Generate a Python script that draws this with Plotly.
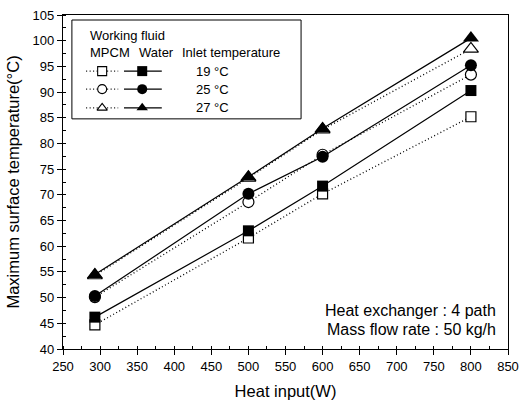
import plotly.graph_objects as go

# Heat input (W)
heat_input = [293, 500, 600, 800]

# Maximum surface temperature (°C) by working fluid and inlet temperature
water_19 = [46.2, 63.0, 71.7, 90.3]
water_25 = [50.3, 70.2, 77.4, 95.2]
water_27 = [54.5, 73.5, 82.9, 100.5]
mpcm_19 = [44.7, 61.6, 70.2, 85.2]
mpcm_25 = [50.1, 68.6, 77.8, 93.4]
mpcm_27 = [54.3, 73.3, 82.7, 98.4]

inlet_labels = ["19 °C", "25 °C", "27 °C"]
symbols = ["square", "circle", "triangle-up"]
sizes = [10, 11, 13]

FONT = "Liberation Sans, Arial, sans-serif"
DOT = "1px,2.5px"
fig = go.Figure()

water = [water_19, water_25, water_27]
mpcm = [mpcm_19, mpcm_25, mpcm_27]

# MPCM: dotted lines with white-filled markers
for vals, sym, sz in zip(mpcm, symbols, sizes):
    fig.add_trace(go.Scatter(
        x=heat_input, y=vals, mode="lines+markers",
        line=dict(color="black", width=1.3, dash=DOT),
        marker=dict(symbol=sym, size=sz, color="white",
                    line=dict(width=1.2, color="black")),
        showlegend=False))

# Water: solid lines with filled markers
for vals, sym, sz in zip(water, symbols, sizes):
    fig.add_trace(go.Scatter(
        x=heat_input, y=vals, mode="lines+markers",
        line=dict(color="black", width=1.2),
        marker=dict(symbol=sym, size=sz + 1, color="black"),
        showlegend=False))

# Hand-built legend on an overlay axis spanning the plot area (0..1)
rows_y = [0.832, 0.778, 0.722]
for ry, sym, lab in zip(rows_y, symbols, inlet_labels):
    fig.add_trace(go.Scatter(
        x=[0.052, 0.124], y=[ry] * 2, mode="lines",
        line=dict(color="black", width=1.2, dash=DOT),
        xaxis="x2", yaxis="y2", showlegend=False, hoverinfo="skip"))
    fig.add_trace(go.Scatter(
        x=[0.088], y=[ry], mode="markers",
        marker=dict(symbol=sym, size=9, color="white",
                    line=dict(width=1.1, color="black")),
        xaxis="x2", yaxis="y2", showlegend=False, hoverinfo="skip"))
    fig.add_trace(go.Scatter(
        x=[0.137, 0.222], y=[ry] * 2, mode="lines",
        line=dict(color="black", width=1.2),
        xaxis="x2", yaxis="y2", showlegend=False, hoverinfo="skip"))
    fig.add_trace(go.Scatter(
        x=[0.178], y=[ry], mode="markers",
        marker=dict(symbol=sym, size=10, color="black"),
        xaxis="x2", yaxis="y2", showlegend=False, hoverinfo="skip"))
    fig.add_annotation(x=0.337, y=ry, xref="paper", yref="paper",
                       text=lab, showarrow=False, yanchor="middle",
                       font=dict(family=FONT, size=13, color="black"))

legend_text = [
    ("Working fluid", 0.056, 0.940),
    ("MPCM", 0.056, 0.889),
    ("Water", 0.166, 0.889),
    ("Inlet temperature", 0.263, 0.889),
]
for txt, lx, ly in legend_text:
    fig.add_annotation(x=lx, y=ly, xref="paper", yref="paper", text=txt,
                       showarrow=False, xanchor="left", yanchor="middle",
                       font=dict(family=FONT, size=13, color="black"))

fig.add_shape(type="rect", xref="paper", yref="paper",
              x0=0.020, x1=0.535, y0=0.689, y1=0.985,
              line=dict(color="black", width=1))

fig.add_annotation(x=0.977, y=0.114, xref="paper", yref="paper",
                   text="Heat exchanger : 4 path", showarrow=False,
                   xanchor="right", yanchor="middle",
                   font=dict(family=FONT, size=16, color="black"))
fig.add_annotation(x=0.977, y=0.057, xref="paper", yref="paper",
                   text="Mass flow rate : 50 kg/h", showarrow=False,
                   xanchor="right", yanchor="middle",
                   font=dict(family=FONT, size=16, color="black"))

axis_common = dict(
    showgrid=False, zeroline=False, showline=True, linecolor="black",
    linewidth=1.2, mirror=True, ticks="outside", ticklen=5, tickwidth=1,
    tickcolor="black", automargin=False,
    tickfont=dict(family=FONT, size=13, color="black"),
)

fig.update_layout(
    width=521, height=403,
    margin=dict(l=63, r=13, t=15, b=54),
    paper_bgcolor="white", plot_bgcolor="white",
    xaxis=dict(range=[250, 850], dtick=50,
               minor=dict(dtick=25, ticks="inside", ticklen=3, tickcolor="black"),
               title=dict(text="Heat input(W)", standoff=12,
                          font=dict(family=FONT, size=16.5, color="black")),
               **axis_common),
    yaxis=dict(range=[40, 105], dtick=5,
               minor=dict(dtick=2.5, ticks="inside", ticklen=3, tickcolor="black"),
               title=dict(text="Maximum surface temperature(°C)", standoff=8,
                          font=dict(family=FONT, size=16.5, color="black")),
               **axis_common),
    xaxis2=dict(overlaying="x", range=[0, 1], visible=False, automargin=False),
    yaxis2=dict(overlaying="y", range=[0, 1], visible=False, automargin=False),
)

fig.write_html("out.html")
